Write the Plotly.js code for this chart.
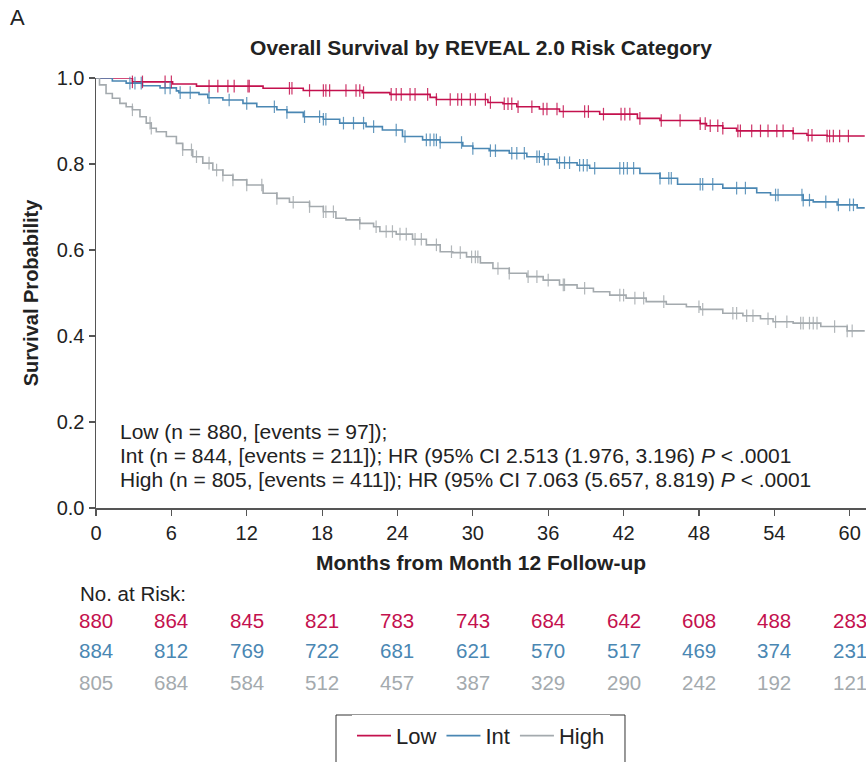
<!DOCTYPE html>
<html>
<head>
<meta charset="utf-8">
<script src="https://cdn.plot.ly/plotly-3.0.1.min.js"></script>
<style>html,body{margin:0;padding:0;background:#fff;}#chart{width:866px;height:762px;}</style>
</head>
<body>
<div id="chart"></div>
<script>
// ---- Data ----
const lowT = [0, 2.9, 6.1, 8.0, 13.3, 16.5, 21.2, 23.4, 26.6, 27.1, 31.2, 32.4, 33.5, 35.3, 36.9, 40.1, 43.1, 44.9, 48.1, 48.6, 49.9, 51.0, 55.5, 56.6, 58.2, 61.2];
const lowS = [1.0, 0.991, 0.986, 0.981, 0.976, 0.971, 0.966, 0.962, 0.955, 0.950, 0.943, 0.940, 0.933, 0.928, 0.922, 0.916, 0.906, 0.901, 0.894, 0.889, 0.883, 0.877, 0.871, 0.867, 0.865, 0.865];
const lowCens = [2.9, 3.7, 5.5, 6.0, 9.0, 9.7, 10.5, 11.0, 12.1, 12.2, 15.4, 15.6, 17.0, 18.1, 18.3, 18.6, 19.9, 20.7, 21.0, 21.3, 23.5, 23.9, 24.3, 25.0, 25.4, 26.4, 27.1, 28.2, 28.8, 29.1, 29.8, 30.2, 31.0, 31.4, 32.5, 32.8, 33.1, 33.6, 34.7, 35.6, 35.9, 36.7, 37.2, 38.9, 39.2, 40.4, 41.8, 42.1, 42.5, 43.3, 45.0, 46.5, 48.1, 48.5, 48.9, 49.5, 49.9, 51.1, 51.3, 52.2, 52.9, 53.5, 54.2, 54.7, 55.5, 56.7, 57.0, 58.2, 58.4, 58.7, 59.2, 59.9];

const intT = [0, 1.3, 2.4, 3.7, 5.1, 6.4, 6.6, 8.2, 8.9, 10.1, 11.7, 12.8, 14.4, 15.2, 16.5, 18.1, 19.4, 21.5, 22.8, 24.4, 26.0, 27.4, 29.2, 30.0, 31.3, 32.9, 34.3, 35.6, 36.7, 38.3, 39.3, 43.3, 44.9, 46.3, 49.9, 52.6, 53.7, 56.3, 57.1, 59.0, 60.6, 61.2];
const intS = [1.0, 0.993, 0.988, 0.982, 0.977, 0.970, 0.966, 0.962, 0.954, 0.949, 0.941, 0.933, 0.926, 0.920, 0.910, 0.904, 0.895, 0.887, 0.879, 0.864, 0.856, 0.850, 0.842, 0.836, 0.831, 0.825, 0.817, 0.811, 0.803, 0.797, 0.790, 0.778, 0.767, 0.753, 0.744, 0.733, 0.728, 0.716, 0.712, 0.705, 0.698, 0.698];
const intCens = [2.7, 3.1, 3.6, 5.5, 5.9, 6.7, 7.5, 9.0, 10.6, 12.0, 14.2, 15.2, 16.6, 17.8, 18.1, 18.3, 19.7, 20.5, 21.3, 22.1, 23.9, 24.6, 26.3, 26.6, 26.9, 27.1, 27.4, 29.1, 30.0, 31.4, 31.8, 33.1, 33.5, 34.1, 35.1, 35.3, 35.7, 36.0, 36.9, 37.3, 37.7, 38.5, 38.8, 39.1, 39.7, 41.7, 42.0, 42.3, 42.8, 44.9, 45.6, 45.8, 48.1, 48.3, 49.1, 51.0, 51.7, 54.1, 54.3, 56.2, 56.3, 56.8, 58.1, 59.1, 60.0, 60.3];

const highT = [0, 0.28, 0.8, 1.3, 1.9, 2.4, 2.9, 3.5, 4.0, 4.4, 4.8, 5.6, 6.4, 6.9, 7.7, 8.5, 9.3, 10.1, 10.9, 12.0, 13.3, 14.4, 15.4, 17.0, 18.1, 19.1, 19.9, 21.0, 22.1, 22.6, 23.9, 25.2, 26.3, 27.4, 28.4, 29.5, 30.6, 31.6, 32.9, 34.3, 35.6, 36.9, 38.3, 39.6, 40.9, 42.2, 43.8, 45.4, 47.0, 48.1, 49.9, 51.5, 52.9, 53.9, 55.5, 57.7, 59.8, 61.2];
const highS = [1.0, 0.984, 0.964, 0.953, 0.941, 0.933, 0.926, 0.910, 0.895, 0.883, 0.875, 0.864, 0.848, 0.833, 0.817, 0.802, 0.786, 0.774, 0.763, 0.751, 0.732, 0.720, 0.711, 0.701, 0.689, 0.674, 0.670, 0.662, 0.654, 0.643, 0.637, 0.625, 0.612, 0.596, 0.594, 0.584, 0.570, 0.557, 0.546, 0.538, 0.530, 0.519, 0.511, 0.503, 0.495, 0.488, 0.480, 0.474, 0.468, 0.462, 0.453, 0.447, 0.440, 0.433, 0.430, 0.422, 0.412, 0.412];
const highCens = [2.9, 4.3, 4.4, 6.9, 7.6, 8.0, 9.0, 9.6, 10.1, 10.9, 12.0, 13.2, 14.4, 15.7, 17.0, 18.1, 18.3, 18.9, 21.0, 22.3, 23.1, 23.6, 24.2, 24.7, 25.4, 25.9, 27.1, 28.3, 29.0, 29.9, 30.2, 30.4, 32.0, 32.9, 34.4, 35.1, 36.0, 37.2, 37.3, 38.9, 41.7, 42.0, 42.9, 43.6, 45.2, 48.0, 48.3, 50.7, 51.0, 51.8, 52.3, 53.5, 54.1, 55.0, 56.1, 56.3, 56.8, 57.1, 57.4, 58.8, 59.8, 60.2];

const groupNames = ["Low", "Int", "High"];
const months = [0, 6, 12, 18, 24, 30, 36, 42, 48, 54, 60];
const riskLow = [880, 864, 845, 821, 783, 743, 684, 642, 608, 488, 283];
const riskInt = [884, 812, 769, 722, 681, 621, 570, 517, 469, 374, 231];
const riskHigh = [805, 684, 584, 512, 457, 387, 329, 290, 242, 192, 121];
const yTicks = [0, 0.2, 0.4, 0.6, 0.8, 1.0];

// ---- Styles ----
const colors = ["#C4114E", "#4A87B3", "#A4AAAE"];
const FONT = "Arial, 'Liberation Sans', Helvetica, sans-serif";

function stepAt(ts, ss, t) {
  let v = ss[0];
  for (let i = 0; i < ts.length; i++) { if (ts[i] <= t) v = ss[i]; else break; }
  return v;
}

const series = [[lowT, lowS, lowCens], [intT, intS, intCens], [highT, highS, highCens]];
const traces = [];
series.forEach((s, i) => {
  traces.push({
    x: s[0], y: s[1], type: "scatter", mode: "lines", name: groupNames[i],
    line: {color: colors[i], width: 1.6, shape: "hv"}, cliponaxis: false, hoverinfo: "skip"
  });
});
series.forEach((s, i) => {
  traces.push({
    x: s[2], y: s[2].map(t => stepAt(s[0], s[1], t)), type: "scatter", mode: "markers",
    showlegend: false, cliponaxis: false, hoverinfo: "skip",
    marker: {symbol: "line-ns-open", size: 9, color: colors[i], opacity: 0.85, line: {color: colors[i], width: 1.2}}
  });
});

const annotations = [];
annotations.push({text: "A", xref: "paper", yref: "paper", x: -0.1143, y: 1.14, xanchor: "left", yanchor: "middle", showarrow: false, font: {family: FONT, size: 22, color: "#222"}});
const hrLines = [
  "Low (n = 880, [events = 97]);",
  "Int (n = 844, [events = 211]); HR (95% CI 2.513 (1.976, 3.196) <i>P</i> < .0001",
  "High (n = 805, [events = 411]); HR (95% CI 7.063 (5.657, 8.819) <i>P</i> < .0001"
];
const hrY = [0.177, 0.122, 0.067];
hrLines.forEach((t, i) => annotations.push({text: t, xref: "paper", yref: "paper", x: 0.028, y: hrY[i], xanchor: "left", yanchor: "middle", showarrow: false, font: {family: FONT, size: 21, color: "#222"}}));
annotations.push({text: "No. at Risk:", xref: "paper", yref: "paper", x: -0.024, y: -0.198, xanchor: "left", yanchor: "middle", showarrow: false, font: {family: FONT, size: 20.5, color: "#222"}});
const riskRows = [riskLow, riskInt, riskHigh];
const riskY = [-0.262, -0.332, -0.406];
riskRows.forEach((row, r) => {
  row.forEach((v, k) => annotations.push({text: String(v), xref: "x", yref: "paper", x: months[k], y: riskY[r], xanchor: "center", yanchor: "middle", showarrow: false, font: {family: FONT, size: 20.5, color: colors[r]}}));
});

const layout = {
  width: 866, height: 762,
  margin: {l: 96, r: 0, t: 78, b: 254},
  paper_bgcolor: "#fff", plot_bgcolor: "#fff",
  font: {family: FONT, color: "#222"},
  title: {text: "<b>Overall Survival by REVEAL 2.0 Risk Category</b>", font: {family: FONT, size: 21, color: "#222"}, x: 0.5, xref: "paper", xanchor: "center", y: 1 - 48 / 762, yanchor: "middle"},
  xaxis: {
    range: [0, 61.3], tickvals: months, ticktext: months.map(String),
    showline: true, linecolor: "#555", linewidth: 1.5, ticks: "outside", ticklen: 6, tickwidth: 1.2, tickcolor: "#555",
    showgrid: false, zeroline: false, tickfont: {family: FONT, size: 20, color: "#222"},
    title: {text: "<b>Months from Month 12 Follow-up</b>", font: {family: FONT, size: 21, color: "#222"}, standoff: 13}
  },
  yaxis: {
    range: [0, 1], tickvals: yTicks, tickformat: ".1f",
    showline: true, linecolor: "#555", linewidth: 1.5, ticks: "outside", ticklen: 6, tickwidth: 1.2, tickcolor: "#555",
    showgrid: false, zeroline: false, tickfont: {family: FONT, size: 20, color: "#222"},
    title: {text: "<b>Survival Probability</b>", font: {family: FONT, size: 20, color: "#222"}, standoff: 12}
  },
  legend: {orientation: "h", x: 0.5, xanchor: "center", y: -0.481, yanchor: "top", borderwidth: 0, font: {family: FONT, size: 22, color: "#222"}, itemwidth: 34},
  shapes: [{type: "rect", xref: "paper", yref: "paper", x0: 0.3117, x1: 0.687, y0: -0.4814, y1: -0.6, line: {color: "#333", width: 1}, fillcolor: "rgba(0,0,0,0)", layer: "below"}],
  annotations: annotations,
  showlegend: true
};

Plotly.newPlot("chart", traces, layout, {staticPlot: true, displayModeBar: false});
</script>
</body>
</html>
